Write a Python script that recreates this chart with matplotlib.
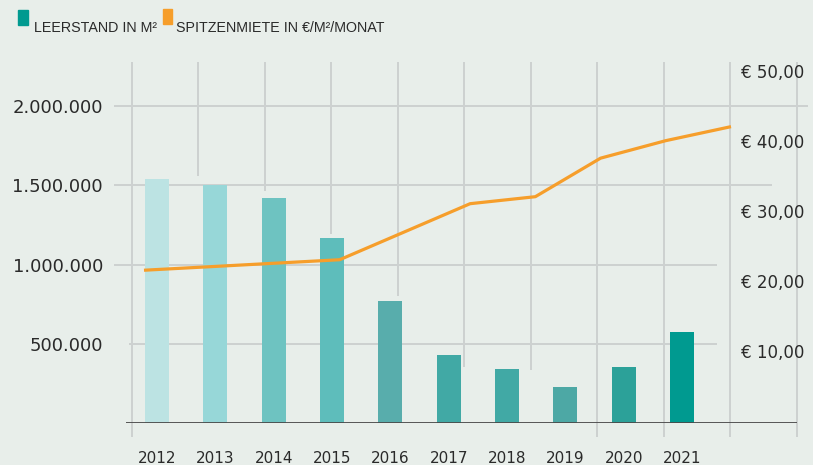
import matplotlib.pyplot as plt
from matplotlib.patches import Rectangle

# data
years = [2012, 2013, 2014, 2015, 2016, 2017, 2018, 2019, 2020, 2021]
leerstand = [1540000, 1500000, 1420000, 1170000, 770000, 430000, 340000, 230000, 355000, 575000]
spitzenmiete = [21.5, 22.0, 22.5, 23.0, 27.0, 31.0, 32.0, 37.5, 40.0, 42.0]
left_ticks = [500000, 1000000, 1500000, 2000000]
right_ticks = [10, 20, 30, 40, 50]
legend_labels = ["LEERSTAND IN M²", "SPITZENMIETE IN €/M²/MONAT"]

bar_colors = ["#BCE3E3", "#97D7D8", "#6EC3C1", "#5EBDBB", "#58ADAC",
              "#41A9A5", "#41A9A5", "#4DA8A5", "#2CA199", "#009A90"]
BG = "#E8EEEA"
TEAL = "#009A90"
ORANGE = "#F69E2B"
GRID = "#CDD1D0"
TEXT = "#2A2A2A"

W, H = 813, 465


def de_number(v):
    return f"{v:,.0f}".replace(",", ".")


def euro(v):
    return "€ " + f"{v:.2f}".replace(".", ",")


fig = plt.figure(figsize=(W / 100, H / 100), dpi=100, facecolor=BG)

# main axes for the bars (pixel frame 126..797 x 62..423)
ax = fig.add_axes([126 / W, 1 - 423 / H, 671 / W, 361 / H])
ax.set_facecolor("none")
for s in ax.spines.values():
    s.set_visible(False)

ax.bar(range(len(years)), leerstand, width=0.41, color=bar_colors, zorder=3)
ax.set_xlim(-0.531, 10.97)
ax.set_ylim(0, 2279800)
ax.set_xticks(range(len(years)), labels=[str(y) for y in years])
ax.set_yticks(left_ticks, labels=[de_number(v) for v in left_ticks])
ax.tick_params(axis="x", length=0, pad=20, labelsize=11, colors=TEXT)
ax.tick_params(axis="y", length=0, pad=16.5, labelsize=13, colors=TEXT)

# horizontal grid, uneven lengths like the original design
h_start = [129, 114, 114, 114]
h_end = [717, 717, 772, 808]
for val, x0, x1 in zip(left_ticks, h_start, h_end):
    ax.hlines(val, (x0 - 126) / 671, (x1 - 126) / 671, transform=ax.get_yaxis_transform(),
              color=GRID, lw=1.4, zorder=1, clip_on=False)

# vertical grid, some lines stop above the bars
v_x = [131.7 + 66.5 * j for j in range(11)]
v_bottom = [437, 176, 190.7, 234, 296, 366.7, 370, 437, 437, 437, 437]
ax.vlines([(x - 126) / 671 for x in v_x], [(423 - b) / 361 for b in v_bottom], 1.0,
          transform=ax.transAxes, color=GRID, lw=1.4, zorder=1, clip_on=False)

ax.axhline(0, color="#4A4A4A", lw=1.3, zorder=4)

# separate axes for the rent line (own x scale, right hand labels)
ax2 = fig.add_axes([126 / W, 1 - 423 / H, 605 / W, 361 / H])
ax2.set_facecolor("none")
for s in ax2.spines.values():
    s.set_visible(False)
ax2.plot(years, spitzenmiete, color=ORANGE, lw=2.3, zorder=5, clip_on=False,
         solid_joinstyle="round", solid_capstyle="butt")
ax2.set_xlim(2011.724, 2021)
ax2.set_ylim(-0.31, 51.23)
ax2.set_xticks([])
ax2.yaxis.tick_right()
ax2.set_yticks(right_ticks, labels=[euro(v) for v in right_ticks])
ax2.tick_params(axis="y", length=0, pad=7, labelsize=12, colors=TEXT)

# legend
fig.patches.append(Rectangle((18 / W, 1 - 25 / H), 10 / W, 15 / H,
                             transform=fig.transFigure, color=TEAL))
fig.patches.append(Rectangle((162.7 / W, 1 - 24 / H), 9.6 / W, 15 / H,
                             transform=fig.transFigure, color=ORANGE))
fig.text(34 / W, 1 - 32.3 / H, legend_labels[0], va="baseline", ha="left",
         family="Liberation Sans", fontsize=10.3, color=TEXT)
fig.text(176 / W, 1 - 32.3 / H, legend_labels[1], va="baseline", ha="left",
         family="Liberation Sans", fontsize=10.3, color=TEXT)

fig.savefig("out.png", dpi=100, facecolor=BG)
